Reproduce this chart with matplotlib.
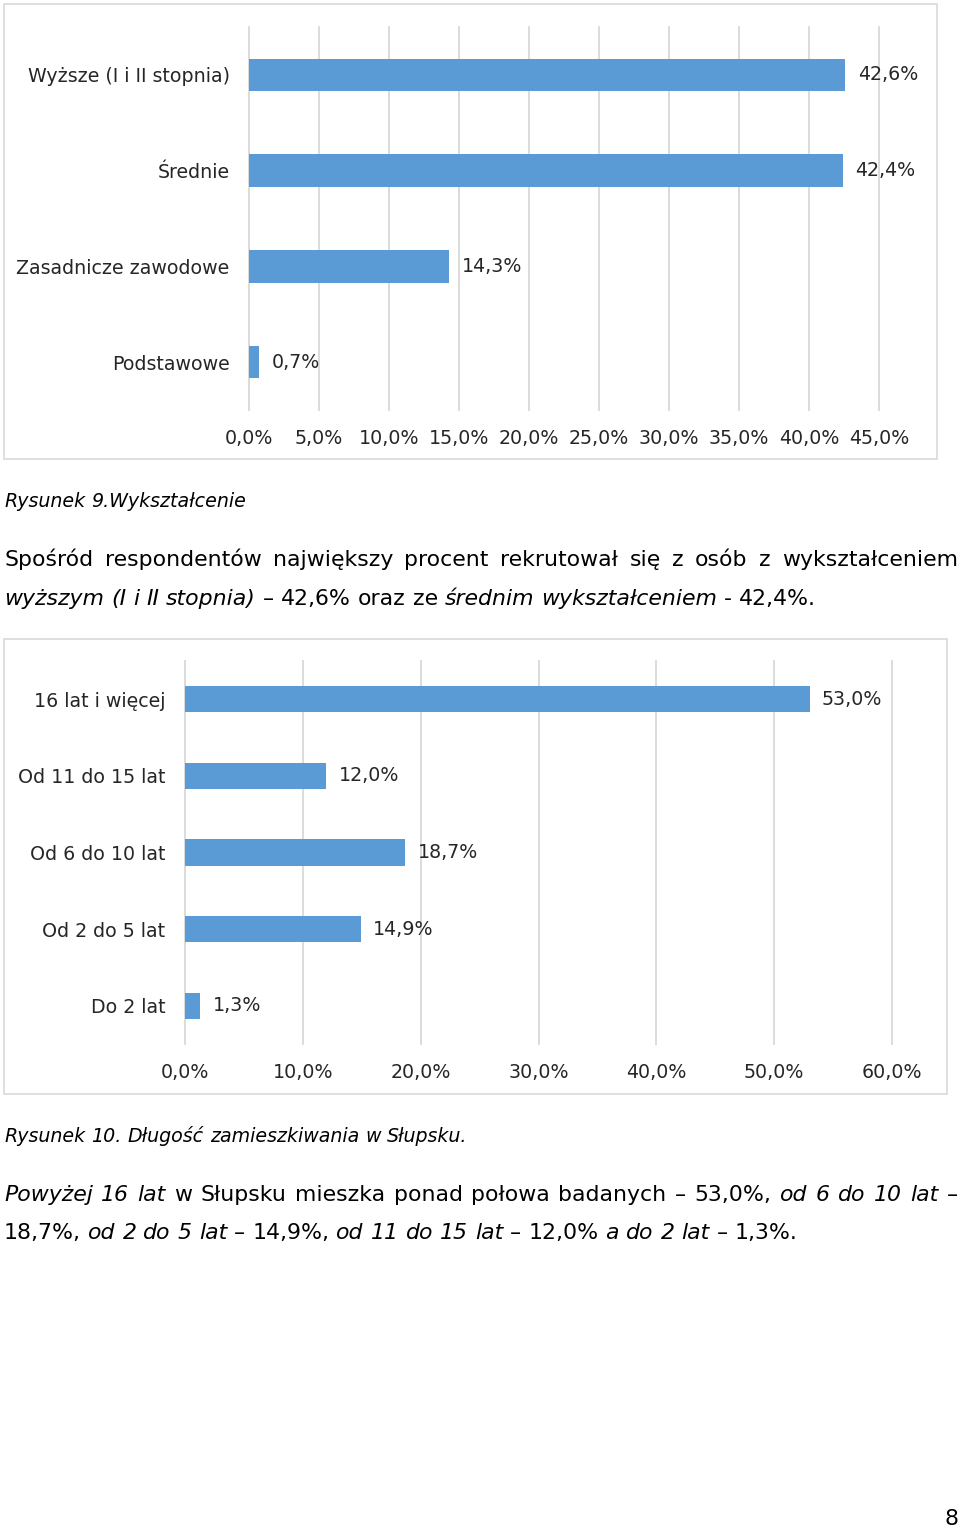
import matplotlib
matplotlib.use("Agg")
import matplotlib.pyplot as plt
from matplotlib.patches import Rectangle

# dane
edu_labels = ["Wyższe (I i II stopnia)", "Średnie", "Zasadnicze zawodowe", "Podstawowe"]
edu_values = [42.6, 42.4, 14.3, 0.7]
edu_ticks = [0, 5, 10, 15, 20, 25, 30, 35, 40, 45]

yrs_labels = ["16 lat i więcej", "Od 11 do 15 lat", "Od 6 do 10 lat", "Od 2 do 5 lat", "Do 2 lat"]
yrs_values = [53.0, 12.0, 18.7, 14.9, 1.3]
yrs_ticks = [0, 10, 20, 30, 40, 50, 60]

cap1 = "Rysunek 9.Wykształcenie"
par1_l1 = [("Spośród respondentów największy procent rekrutował się z osób z wykształceniem", False)]
par1_l2 = [("wyższym (I i II stopnia)", True), ("– 42,6% oraz ze", False),
           ("średnim wykształceniem", True), ("- 42,4%.", False)]
cap2 = "Rysunek 10. Długość zamieszkiwania w Słupsku."
par2_l1 = [("Powyżej 16 lat", True), ("w Słupsku mieszka ponad połowa badanych – 53,0%,", False),
           ("od 6 do 10 lat", True), ("–", False)]
par2_l2 = [("18,7%,", False), ("od 2 do 5 lat", True), ("– 14,9%,", False), ("od 11 do 15 lat", True),
           ("– 12,0%", False), ("a do 2 lat", True), ("– 1,3%.", False)]
page_no = "8"

W, H = 960, 1527
BLUE = "#5B9BD5"
GRID = "#D9D9D9"
TXT = "#262626"
CH_FS = 13.7
BODY_FS = 15.8
CAP_FS = 13.7

plt.rcParams["font.family"] = ["DejaVu Sans"]
fig = plt.figure(figsize=(W / 100, H / 100), dpi=100)


def fmt(v):
    return ("%.1f" % v).replace(".", ",") + "%"


def box(l, t, r, b):
    return [l / W, 1 - b / H, (r - l) / W, (b - t) / H]


def frame(l, t, r, b):
    fig.patches.append(Rectangle((l / W, 1 - b / H), (r - l) / W, (b - t) / H,
                                 transform=fig.transFigure, fill=False,
                                 edgecolor=GRID, lw=1.2))


def bar_chart(rect, labels, values, ticks, xmax):
    ax = fig.add_axes(rect)
    y = list(range(len(labels)))
    ax.barh(y, values, height=0.34, color=BLUE, zorder=2)
    ax.set_ylim(len(labels) - 0.5, -0.5)
    ax.set_xlim(0, xmax)
    ax.set_yticks(y, labels)
    ax.set_xticks(ticks, [fmt(t) for t in ticks])
    ax.grid(axis="x", color=GRID, lw=1.3, zorder=0)
    ax.set_axisbelow(True)
    for gl in ax.get_xgridlines():
        gl.set_clip_on(False)
    for s in ax.spines.values():
        s.set_visible(False)
    ax.tick_params(axis="y", length=0, labelsize=CH_FS, colors=TXT, pad=14)
    ax.tick_params(axis="x", length=0, labelsize=CH_FS, colors=TXT, pad=14)
    for yi, v in zip(y, values):
        ax.annotate(fmt(v), (v, yi), xytext=(9, 0), textcoords="offset points",
                    va="center", ha="left", fontsize=CH_FS, color=TXT)
    return ax


frame(4, 4, 937, 459)
bar_chart(box(249, 27, 879, 410), edu_labels, edu_values, edu_ticks, 45)

frame(4, 639, 947, 1094)
bar_chart(box(185, 661, 892, 1044), yrs_labels, yrs_values, yrs_ticks, 60)

renderer = fig.canvas.get_renderer()


def text_line(y, parts, size, x0=4, x1=None):
    words = []
    for s, it in parts:
        for w in s.split():
            words.append((w, it))
    arts = []
    widths = []
    for w, it in words:
        t = fig.text(0, 1 - y / H, w, fontsize=size, style="italic" if it else "normal",
                     color="black", va="baseline", ha="left")
        arts.append(t)
        widths.append(t.get_window_extent(renderer).width)
    if x1 is not None and len(words) > 1:
        gap = (x1 - x0 - sum(widths)) / (len(words) - 1)
    else:
        gap = 0.318 * size * 100 / 72
    x = x0
    for t, wd in zip(arts, widths):
        t.set_x(x / W)
        x += wd + gap


text_line(507, [(cap1, True)], CAP_FS)
text_line(566, par1_l1, BODY_FS, x1=958)
text_line(605, par1_l2, BODY_FS)
text_line(1142, [(cap2, True)], CAP_FS)
text_line(1201, par2_l1, BODY_FS, x1=958)
text_line(1239, par2_l2, BODY_FS)
fig.text(958 / W, 1 - 1525 / H, page_no, fontsize=BODY_FS, ha="right", va="baseline", color="black")

fig.savefig("out.png", dpi=100)
